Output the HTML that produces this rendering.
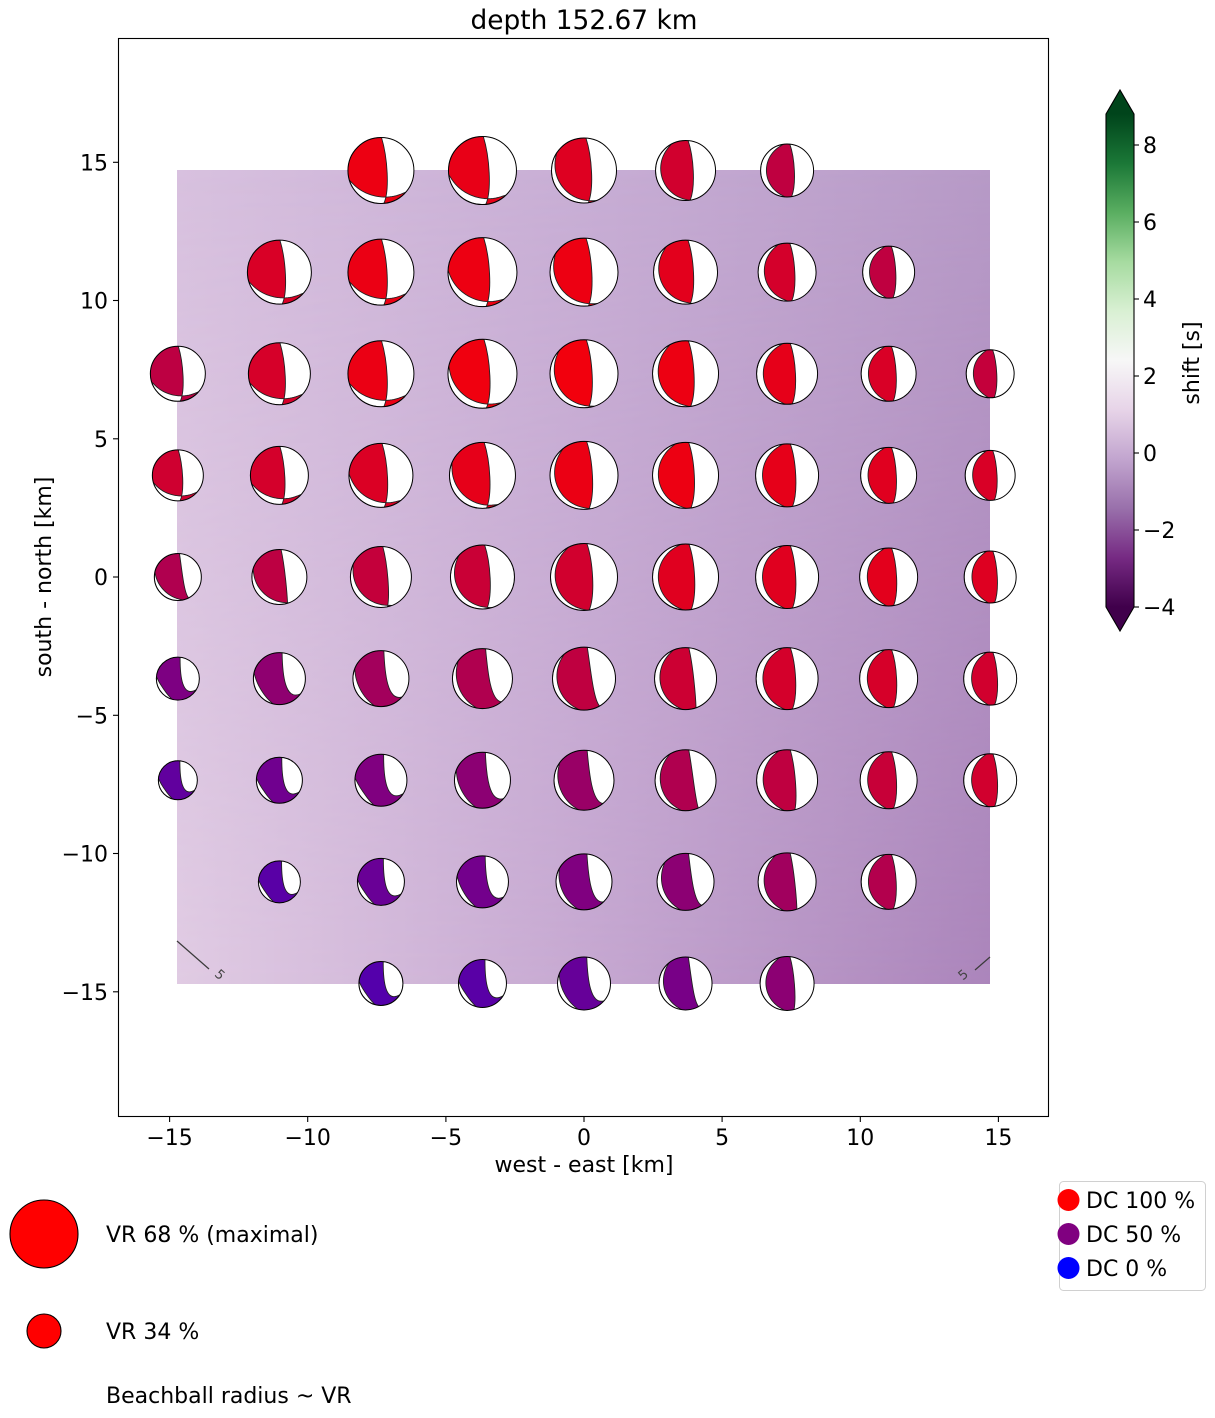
<!DOCTYPE html>
<html>
<head>
<meta charset="utf-8">
<style>
html,body{margin:0;padding:0;background:#fff;}
svg{display:block;}
</style>
</head>
<body>
<svg id="s" width="1215" height="1418" viewBox="0 0 1215 1418" xmlns="http://www.w3.org/2000/svg" font-family="'DejaVu Sans','Liberation Sans',sans-serif">
<defs>
  <linearGradient id="gTop" x1="0" y1="0" x2="1" y2="0">
    <stop offset="0" stop-color="#d8c1df"/>
    <stop offset="0.5" stop-color="#c8aed5"/>
    <stop offset="1" stop-color="#b79ac7"/>
  </linearGradient>
  <linearGradient id="gBot" x1="0" y1="0" x2="1" y2="0">
    <stop offset="0" stop-color="#e0cbe3"/>
    <stop offset="0.5" stop-color="#c6a8d1"/>
    <stop offset="1" stop-color="#ab85bb"/>
  </linearGradient>
  <linearGradient id="gV" x1="0" y1="0" x2="0" y2="1">
    <stop offset="0" stop-color="#000"/>
    <stop offset="1" stop-color="#fff"/>
  </linearGradient>
  <mask id="mV" maskUnits="userSpaceOnUse" x="0" y="0" width="1215" height="1418">
    <rect x="177" y="170" width="813" height="814" fill="url(#gV)"/>
  </mask>
  <linearGradient id="cb" x1="0" y1="1" x2="0" y2="0">
    <stop offset="0" stop-color="#40004b"/>
    <stop offset="0.1" stop-color="#762a83"/>
    <stop offset="0.2" stop-color="#9970ab"/>
    <stop offset="0.3" stop-color="#c2a5cf"/>
    <stop offset="0.4" stop-color="#e7d4e8"/>
    <stop offset="0.5" stop-color="#f7f7f7"/>
    <stop offset="0.6" stop-color="#d9f0d3"/>
    <stop offset="0.7" stop-color="#a6dba0"/>
    <stop offset="0.8" stop-color="#5aae61"/>
    <stop offset="0.9" stop-color="#1b7837"/>
    <stop offset="1" stop-color="#00441b"/>
  </linearGradient>
</defs>

<!-- title -->
<text x="584" y="29" font-size="26.4" text-anchor="middle" fill="#000">depth 152.67 km</text>

<!-- background field -->
<rect x="177" y="170" width="813" height="814" fill="url(#gTop)"/>
<rect x="177" y="170" width="813" height="814" fill="url(#gBot)" mask="url(#mV)"/>

<!-- contour lines -->
<line x1="177" y1="941" x2="209" y2="969" stroke="#3a3a3a" stroke-width="1.2"/>
<text x="0" y="0" font-size="13" fill="#444" text-anchor="middle" transform="translate(217,978) rotate(41)">5</text>
<line x1="990" y1="957" x2="975" y2="970" stroke="#3a3a3a" stroke-width="1.2"/>
<text x="0" y="0" font-size="13" fill="#444" text-anchor="middle" transform="translate(966,978) rotate(-41)">5</text>

<g id="balls"></g>

<!-- axes frame -->
<rect x="118.5" y="38.5" width="930" height="1078" fill="none" stroke="#000" stroke-width="1.1"/>

<!-- x ticks -->
<g stroke="#000" stroke-width="1.1">
  <line x1="169.6" y1="1117" x2="169.6" y2="1122"/>
  <line x1="307.7" y1="1117" x2="307.7" y2="1122"/>
  <line x1="445.9" y1="1117" x2="445.9" y2="1122"/>
  <line x1="584" y1="1117" x2="584" y2="1122"/>
  <line x1="722.1" y1="1117" x2="722.1" y2="1122"/>
  <line x1="860.3" y1="1117" x2="860.3" y2="1122"/>
  <line x1="998.4" y1="1117" x2="998.4" y2="1122"/>
</g>
<g font-size="22" text-anchor="middle" fill="#000">
  <text x="169.6" y="1145">−15</text>
  <text x="307.7" y="1145">−10</text>
  <text x="445.9" y="1145">−5</text>
  <text x="584" y="1145">0</text>
  <text x="722.1" y="1145">5</text>
  <text x="860.3" y="1145">10</text>
  <text x="998.4" y="1145">15</text>
</g>
<text x="584" y="1172" font-size="22" text-anchor="middle" fill="#000">west - east [km]</text>

<!-- y ticks -->
<g stroke="#000" stroke-width="1.1">
  <line x1="113" y1="162.3" x2="118" y2="162.3"/>
  <line x1="113" y1="300.5" x2="118" y2="300.5"/>
  <line x1="113" y1="438.8" x2="118" y2="438.8"/>
  <line x1="113" y1="577" x2="118" y2="577"/>
  <line x1="113" y1="715.3" x2="118" y2="715.3"/>
  <line x1="113" y1="853.5" x2="118" y2="853.5"/>
  <line x1="113" y1="991.8" x2="118" y2="991.8"/>
</g>
<g font-size="22" text-anchor="end" fill="#000">
  <text x="108" y="170.3">15</text>
  <text x="108" y="308.5">10</text>
  <text x="108" y="446.8">5</text>
  <text x="108" y="585">0</text>
  <text x="108" y="723.3">−5</text>
  <text x="108" y="861.5">−10</text>
  <text x="108" y="999.8">−15</text>
</g>
<text x="0" y="0" font-size="22" text-anchor="middle" fill="#000" transform="translate(51,577) rotate(-90)">south - north [km]</text>

<!-- colorbar -->
<rect x="1106" y="114" width="28" height="493" fill="url(#cb)"/>
<polygon points="1106,114 1120,90 1134,114" fill="#00441b"/>
<polygon points="1106,607 1120,631 1134,607" fill="#40004b"/>
<polygon points="1106,114 1120,90 1134,114 1134,607 1120,631 1106,607" fill="none" stroke="#000" stroke-width="1.1"/>
<g stroke="#000" stroke-width="1.1">
  <line x1="1134" y1="145" x2="1139" y2="145"/>
  <line x1="1134" y1="222" x2="1139" y2="222"/>
  <line x1="1134" y1="299" x2="1139" y2="299"/>
  <line x1="1134" y1="376" x2="1139" y2="376"/>
  <line x1="1134" y1="453" x2="1139" y2="453"/>
  <line x1="1134" y1="530" x2="1139" y2="530"/>
  <line x1="1134" y1="607" x2="1139" y2="607"/>
</g>
<g font-size="22" fill="#000">
  <text x="1143" y="153">8</text>
  <text x="1143" y="230">6</text>
  <text x="1143" y="307">4</text>
  <text x="1143" y="384">2</text>
  <text x="1143" y="461">0</text>
  <text x="1143" y="538">−2</text>
  <text x="1143" y="615">−4</text>
</g>
<text x="0" y="0" font-size="22" text-anchor="middle" fill="#000" transform="translate(1199,363) rotate(-90)">shift [s]</text>

<!-- VR legend -->
<circle cx="44" cy="1234" r="34" fill="#ff0000" stroke="#000" stroke-width="1.1"/>
<circle cx="44" cy="1331" r="17" fill="#ff0000" stroke="#000" stroke-width="1.1"/>
<g font-size="22" fill="#000">
  <text x="106" y="1242">VR 68 % (maximal)</text>
  <text x="106" y="1339">VR 34 %</text>
  <text x="106" y="1403">Beachball radius ~ VR</text>
</g>

<!-- DC legend -->
<rect x="1059.5" y="1181.5" width="146" height="109" rx="4" ry="4" fill="#fff" stroke="#d0d0d0" stroke-width="1"/>
<circle cx="1068.5" cy="1200" r="11" fill="#ff0000"/>
<circle cx="1068.5" cy="1234" r="11" fill="#800080"/>
<circle cx="1068.5" cy="1268" r="11" fill="#0000ff"/>
<g font-size="22" fill="#000">
  <text x="1086" y="1208">DC 100 %</text>
  <text x="1086" y="1242">DC 50 %</text>
  <text x="1086" y="1276">DC 0 %</text>
</g>
</svg>

<script>
(function(){
  var T = {
    1:{a0:1,c1:[0.2,-0.4],c2:[0.27,0.62],a1:175,b0:253,b1:131,th:0.21},
    2:{a0:6,c1:[0.28,-0.5],c2:[0.36,0.5],a1:170,b0:352,b1:184,th:0.25},
    3:{a0:6,c1:[0.1,-0.1],c2:[0.2,0.9],a1:121,b0:275,b1:196,th:0.18}
  };
  var D=[
  [2,0,33,.93,1,0],[3,0,34,.91,.9,0],[4,0,32.5,.87,.5,0],[5,0,30,.82,.2,0],[6,0,26.5,.75,0,0],
  [1,1,32,.85,1,0],[2,1,33,.92,1,0],[3,1,34.5,.93,.8,0],[4,1,34,.93,.5,0],[5,1,32,.89,.3,0],[6,1,29,.83,.1,0],[7,1,26,.75,0,0],
  [0,2,27.5,.74,1,0],[1,2,31,.84,1,0],[2,2,33,.92,1,0],[3,2,34.5,.94,.7,0],[4,2,34,.95,.4,0],[5,2,33,.93,.2,0],[6,2,30.5,.9,0,0],[7,2,27.5,.85,0,0],[8,2,24,.77,0,0],
  [0,3,25.5,.81,1,0],[1,3,29,.83,1,0],[2,3,32,.86,.8,0],[3,3,33,.9,.6,0],[4,3,34,.92,.3,0],[5,3,33,.93,.1,0],[6,3,31.5,.9,0,0],[7,3,28,.88,0,0],[8,3,25,.85,0,0],
  [0,4,23.5,.69,.4,.4],[1,4,27.5,.74,.5,.2],[2,4,30.5,.77,.5,.1],[3,4,32,.79,.4,0],[4,4,33.5,.82,.2,0],[5,4,33,.88,0,0],[6,4,31.5,.88,0,0],[7,4,29,.89,0,0],[8,4,26,.87,0,0],
  [0,5,21.5,.49,0,1],[1,5,26,.56,0,.9],[2,5,28,.64,0,.8],[3,5,30,.69,0,.6],[4,5,31.5,.75,0,.4],[5,5,31,.8,0,.2],[6,5,31,.83,0,0],[7,5,29,.84,0,0],[8,5,26.5,.82,0,0],
  [0,6,19.5,.38,0,1],[1,6,23,.44,0,1],[2,6,26,.5,0,1],[3,6,28,.55,0,.8],[4,6,30,.6,0,.6],[5,6,30.5,.69,0,.3],[6,6,30.5,.75,0,.1],[7,6,28.5,.78,0,0],[8,6,26.5,.82,0,0],
  [1,7,21,.35,0,1],[2,7,23.5,.41,0,1],[3,7,26,.45,0,.9],[4,7,28,.5,0,.7],[5,7,28.5,.55,0,.5],[6,7,29,.63,0,.2],[7,7,27.5,.7,0,0],
  [2,8,22,.33,0,1],[3,8,24,.35,0,1],[4,8,26.5,.4,0,.8],[5,8,26.5,.47,0,.4],[6,8,27,.55,0,.1]
  ];
  function P(a){var t=a*Math.PI/180;return [Math.sin(t),-Math.cos(t)];}
  var out='';
  D.forEach(function(d,i){
    var u=d[0],v=d[1],r=d[2],dc=d[3],w1=d[4],w3=d[5],w2=1-w1-w3;
    var cx=584+(-14.7+u*3.675)*27.63, cy=577-(14.7-v*3.675)*27.65;
    function m(k){return T[1][k]*w1+T[2][k]*w2+T[3][k]*w3;}
    function mp(k){return [T[1][k][0]*w1+T[2][k][0]*w2+T[3][k][0]*w3, T[1][k][1]*w1+T[2][k][1]*w2+T[3][k][1]*w3];}
    function tr(p){return (cx+p[0]*r).toFixed(2)+','+(cy+p[1]*r).toFixed(2);}
    var a0=m('a0'),a1=m('a1'),b0=m('b0'),b1=m('b1');
    var th2=Math.max(0.13,Math.min(0.3,0.13+0.045*(u-4)));
    var th=T[1].th*w1+th2*w2+T[3].th*w3;
    var c1=mp('c1'),c2=mp('c2');
    var spanA=((a0-a1)%360+360)%360, spanB=((b0-b1)%360+360)%360;
    var N=28, bp='';
    for(var k=0;k<=N;k++){
      var s=k/N, az=b0+(b1-b0)*s, rho=1-th*Math.pow(Math.sin(Math.PI*s),0.8);
      var p=P(az); p=[p[0]*rho,p[1]*rho];
      bp+=(k===0?'M':'L')+tr(p)+' ';
    }
    var path='M'+tr(P(a0))+' C'+tr(c1)+' '+tr(c2)+' '+tr(P(a1))+' A'+r+' '+r+' 0 '+(spanA>180?1:0)+' 1 '+tr(P(a0))+' Z '+
             bp+'A'+r+' '+r+' 0 '+(spanB>180?1:0)+' 1 '+tr(P(b0))+' Z';
    var R=Math.round(255*dc),B=Math.round(255*(1-dc));
    var col='rgb('+R+',0,'+B+')';
    var cid='cb'+i;
    out+='<clipPath id="'+cid+'"><circle cx="'+cx.toFixed(2)+'" cy="'+cy.toFixed(2)+'" r="'+r+'"/></clipPath>';
    out+='<circle cx="'+cx.toFixed(2)+'" cy="'+cy.toFixed(2)+'" r="'+r+'" fill="#fff"/>';
    out+='<path d="'+path+'" fill="'+col+'" fill-rule="evenodd" stroke="#222" stroke-width="0.9" stroke-linejoin="round" clip-path="url(#'+cid+')"/>';
    out+='<circle cx="'+cx.toFixed(2)+'" cy="'+cy.toFixed(2)+'" r="'+r+'" fill="none" stroke="#000" stroke-width="1"/>';
  });
  document.getElementById('balls').innerHTML=out;
})();
</script>
</body>
</html>
